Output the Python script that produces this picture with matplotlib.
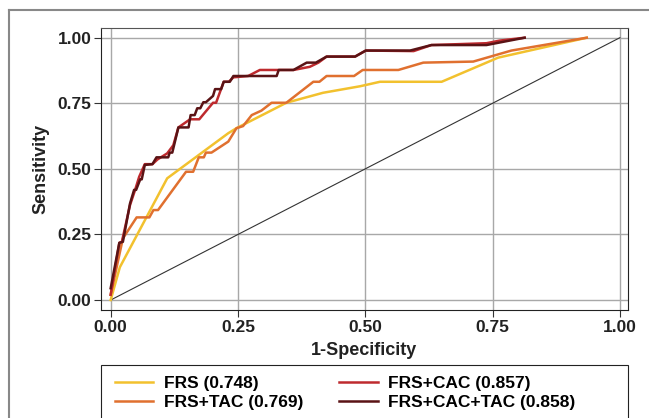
import matplotlib
matplotlib.use("Agg")
import matplotlib.pyplot as plt
from matplotlib.lines import Line2D
from matplotlib.patches import Rectangle

plt.rcParams['font.family'] = ['Liberation Sans', 'DejaVu Sans']

# curvas ROC (1-especificidade, sensibilidade)
frs_x = [0.0, 0.018, 0.111, 0.231, 0.247, 0.345, 0.417, 0.49, 0.529, 0.65, 0.761, 0.935]
frs_y = [0.0, 0.125, 0.464, 0.636, 0.655, 0.752, 0.79, 0.815, 0.832, 0.832, 0.924, 1.0]

tac_x = [0.0, 0.024, 0.051, 0.076, 0.084, 0.093, 0.148, 0.162, 0.173, 0.183, 0.187, 0.198,
         0.231, 0.247, 0.26, 0.277, 0.296, 0.316, 0.345, 0.398, 0.41, 0.424, 0.478,
         0.495, 0.565, 0.614, 0.712, 0.787, 0.935]
tac_y = [0.02, 0.235, 0.315, 0.315, 0.343, 0.343, 0.489, 0.489, 0.544, 0.544, 0.562, 0.562,
         0.604, 0.655, 0.663, 0.705, 0.722, 0.752, 0.752, 0.832, 0.832, 0.854, 0.854,
         0.877, 0.877, 0.905, 0.909, 0.951, 1.0]

cac_x = [0.0, 0.017, 0.022, 0.038, 0.048, 0.056, 0.067, 0.082, 0.092, 0.111, 0.123, 0.133,
         0.156, 0.174, 0.201, 0.207, 0.222, 0.232, 0.241, 0.27, 0.293, 0.359, 0.391,
         0.408, 0.424, 0.48, 0.501, 0.595, 0.63, 0.738, 0.764, 0.813]
cac_y = [0.02, 0.218, 0.222, 0.362, 0.42, 0.47, 0.518, 0.518, 0.536, 0.559, 0.59, 0.658,
         0.689, 0.689, 0.752, 0.752, 0.832, 0.832, 0.849, 0.854, 0.877, 0.877, 0.889,
         0.905, 0.928, 0.928, 0.951, 0.949, 0.972, 0.979, 0.989, 1.0]

ct_x = [0.0, 0.017, 0.024, 0.038, 0.046, 0.05, 0.058, 0.061, 0.067, 0.082, 0.09, 0.113,
        0.116, 0.121, 0.133, 0.153, 0.157, 0.165, 0.17, 0.176, 0.182, 0.187, 0.201,
        0.205, 0.217, 0.222, 0.234, 0.241, 0.326, 0.33, 0.359, 0.385, 0.403, 0.424,
        0.48, 0.501, 0.588, 0.63, 0.738, 0.813]
ct_y = [0.045, 0.218, 0.222, 0.368, 0.42, 0.42, 0.46, 0.46, 0.515, 0.518, 0.544, 0.544,
        0.562, 0.562, 0.658, 0.658, 0.705, 0.705, 0.731, 0.731, 0.754, 0.754, 0.778,
        0.804, 0.804, 0.832, 0.832, 0.854, 0.854, 0.877, 0.877, 0.905, 0.905, 0.928,
        0.928, 0.951, 0.951, 0.972, 0.972, 1.0]

rotulos = ['FRS (0.748)', 'FRS+TAC (0.769)', 'FRS+CAC (0.857)', 'FRS+CAC+TAC (0.858)']
cores = ['#F2C12E', '#E0702F', '#BE2A2E', '#5A1315']
ticks = [0.0, 0.25, 0.5, 0.75, 1.0]

fig = plt.figure(figsize=(6.49, 4.18), dpi=100)
ax = fig.add_axes([101/649, 1-310/418, 527/649, 282/418])

# diagonal de referência
ax.plot([0, 1], [0, 1], color='#333333', lw=0.8, zorder=2)

curvas = [(frs_x, frs_y), (tac_x, tac_y), (cac_x, cac_y), (ct_x, ct_y)]
linhas = []
for (xs, ys), cor, rot in zip(curvas, cores, rotulos):
    l, = ax.plot(xs, ys, color=cor, lw=1.8, label=rot, zorder=3)
    linhas.append(l)

ax.set_xlim(-0.019, 1.016)
ax.set_ylim(-0.038, 1.037)
ax.set_xticks(ticks)
ax.set_yticks(ticks)
ax.set_xticklabels(['%.2f' % t for t in ticks])
ax.set_yticklabels(['%.2f' % t for t in ticks])
ax.grid(True, color='#A8A8A8', lw=1.0)
ax.set_axisbelow(True)
ax.tick_params(direction='out', length=5, width=0.8, color='#333333', pad=2,
               labelsize=12.5, labelcolor='#222222')
for t in ax.get_xticklabels() + ax.get_yticklabels():
    t.set_fontweight('bold')
for lado in ['left', 'bottom', 'right']:
    ax.spines[lado].set_color('#222222')
ax.spines['top'].set_color('#555555')
ax.set_xlabel('1-Specificity', fontsize=13, fontweight='bold', color='#222222', labelpad=5)
ax.set_ylabel('Sensitivity', fontsize=13, fontweight='bold', color='#222222', labelpad=5.5)

# caixa da legenda (sai pela borda de baixo)
fig.add_artist(Rectangle((101/649, -0.05), 527/649, 0.05 + 53/418, transform=fig.transFigure,
                         fill=False, edgecolor='#222222', lw=0.8))

# legenda embaixo, em duas colunas
leg = fig.legend(handles=linhas, labels=rotulos, ncol=2,
                 loc='upper left', bbox_to_anchor=(101/649, 1-362/418),
                 frameon=False, prop={'weight': 'bold', 'size': 12.5},
                 handlelength=2.2, handletextpad=0.6, columnspacing=2.1,
                 borderpad=0.3, labelspacing=0.2)

# moldura externa (só esquerda e topo aparecem)
fig.add_artist(Line2D([9/649, 9/649], [0, 1-10/418], color='#888888', lw=1.5))
fig.add_artist(Line2D([9/649, 1], [1-10/418, 1-10/418], color='#888888', lw=1.5))

fig.savefig('out.png', dpi=100)
